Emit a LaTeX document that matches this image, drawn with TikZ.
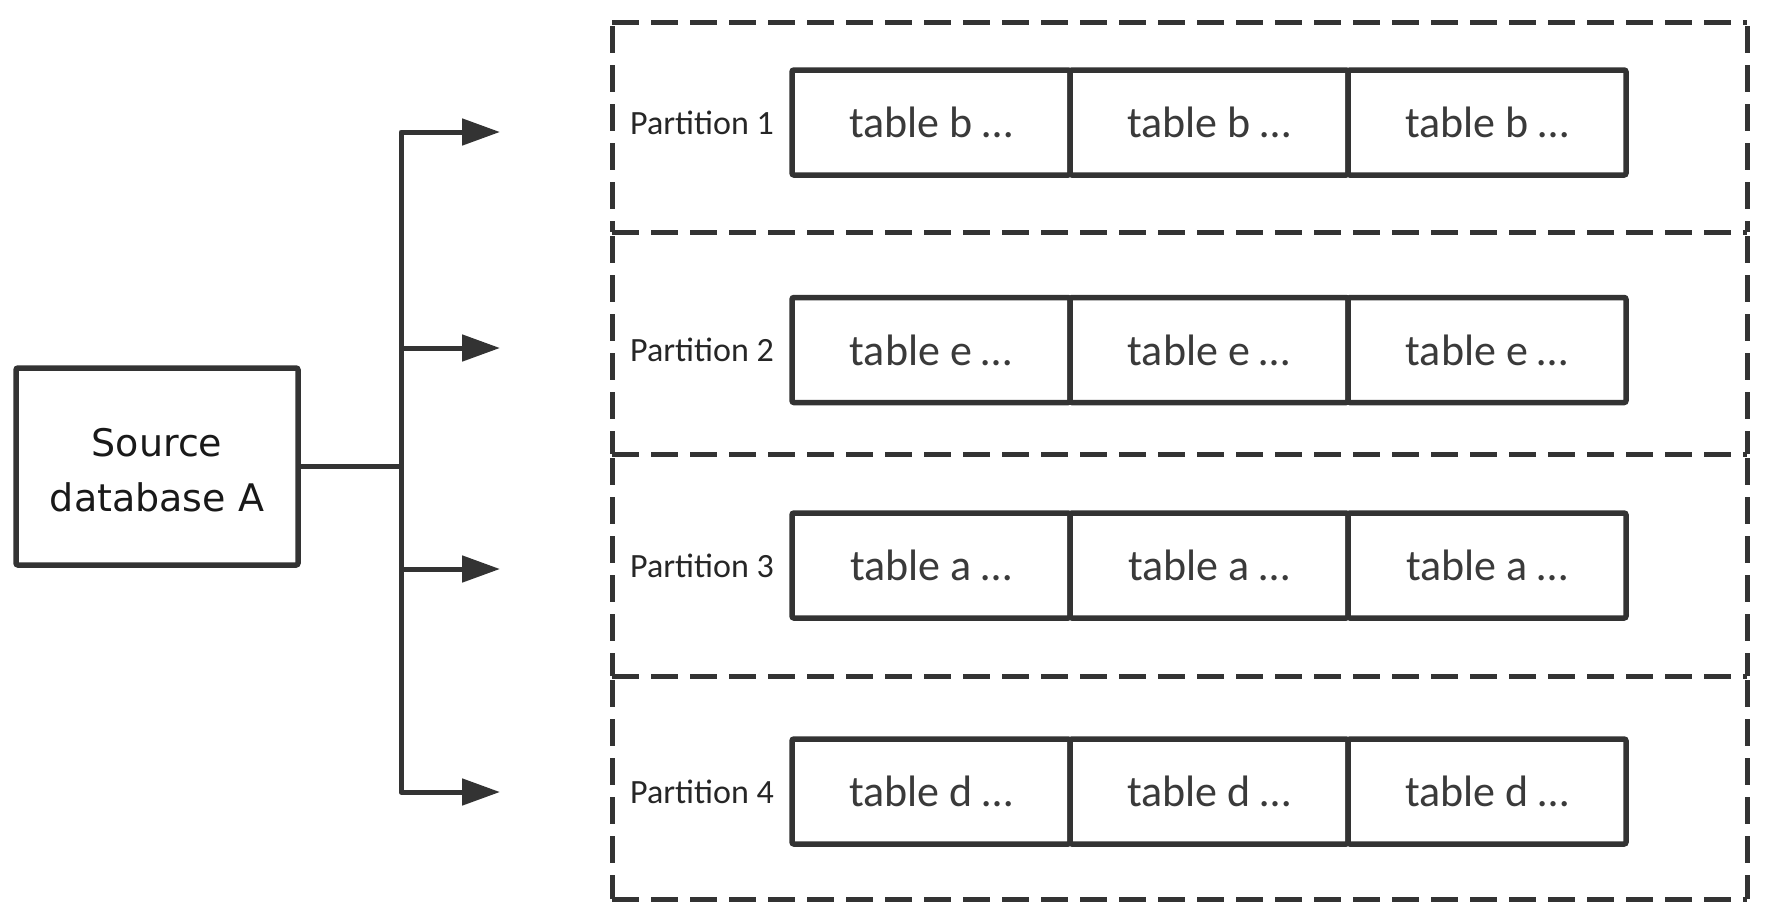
\documentclass[tikz,border=0pt]{standalone}
\usepackage{fontspec}
\setmainfont{Carlito}
\newfontfamily\srcfont{DejaVu Sans}
\usetikzlibrary{arrows.meta}
\definecolor{ln}{HTML}{333333}
\definecolor{txt}{HTML}{3A3A3A}
\tikzset{
  conn/.style={draw=ln, line width=5pt, line join=round},
  arr/.style={conn, -{Triangle[length=38pt,width=26pt]}},
  part/.style={draw=ln, line width=5pt, dash pattern=on 27pt off 12pt},
  tbl/.style={draw=ln, line width=5.5pt, rounded corners=2pt, minimum width=278pt, minimum height=105pt, inner sep=0pt, text=txt, font=\fontsize{44}{50}\selectfont},
  plabel/.style={text=black!85, font=\fontsize{34}{40}\selectfont, inner sep=0pt},
  srcbox/.style={draw=ln, line width=5.5pt, rounded corners=2pt, minimum width=282pt, minimum height=197pt, align=center, inner sep=0pt, font=\srcfont\fontsize{38}{55}\selectfont, text=black!90}
}
\begin{document}
\begin{tikzpicture}[x=1pt,y=-1pt]
\useasboundingbox (0,0) rectangle (1771,922);
\fill[white] (0,0) rectangle (1771,922);
% partitions (dashed): horizontal edges left to right, vertical edges top to bottom
\foreach \yy in {22,232,454,676,899}{
  \draw[part] (612,\yy) -- (1747,\yy);
}
\foreach \ya/\yb in {22/232, 232/454, 454/676, 676/899}{
  \draw[part] (612,\ya+4) -- (612,\yb);
  \draw[part] (1747,\ya+4) -- (1747,\yb);
}
% source
\node[srcbox] (src) at (157,466.5) {\raisebox{-4pt}[\height][\depth]{\parbox{260pt}{\centering Source\\database A}}};
% rows
\foreach \r/\y/\t in {1/122.5/b, 2/350/e, 3/565.5/a, 4/791.5/d}{
  \node[plabel] (p\r) at (702,\y) {Partition \r};
  \node[tbl] (t\r a) at (931,\y) {table \t\ …};
  \node[tbl] (t\r b) at (1209,\y) {table \t\ …};
  \node[tbl] (t\r c) at (1487,\y) {table \t\ …};
}
% connectors
\coordinate (bj) at (401,469);
\coordinate (a1) at (500,132);
\coordinate (a2) at (500,348);
\coordinate (a3) at (500,569);
\coordinate (a4) at (500,792);
\draw[conn] (src.east) -- (src.east -| bj);
\draw[arr] (bj) |- (a1);
\draw[arr] (bj) |- (a4);
\draw[arr] (bj |- a2) -- (a2);
\draw[arr] (bj |- a3) -- (a3);
\end{tikzpicture}
\end{document}
